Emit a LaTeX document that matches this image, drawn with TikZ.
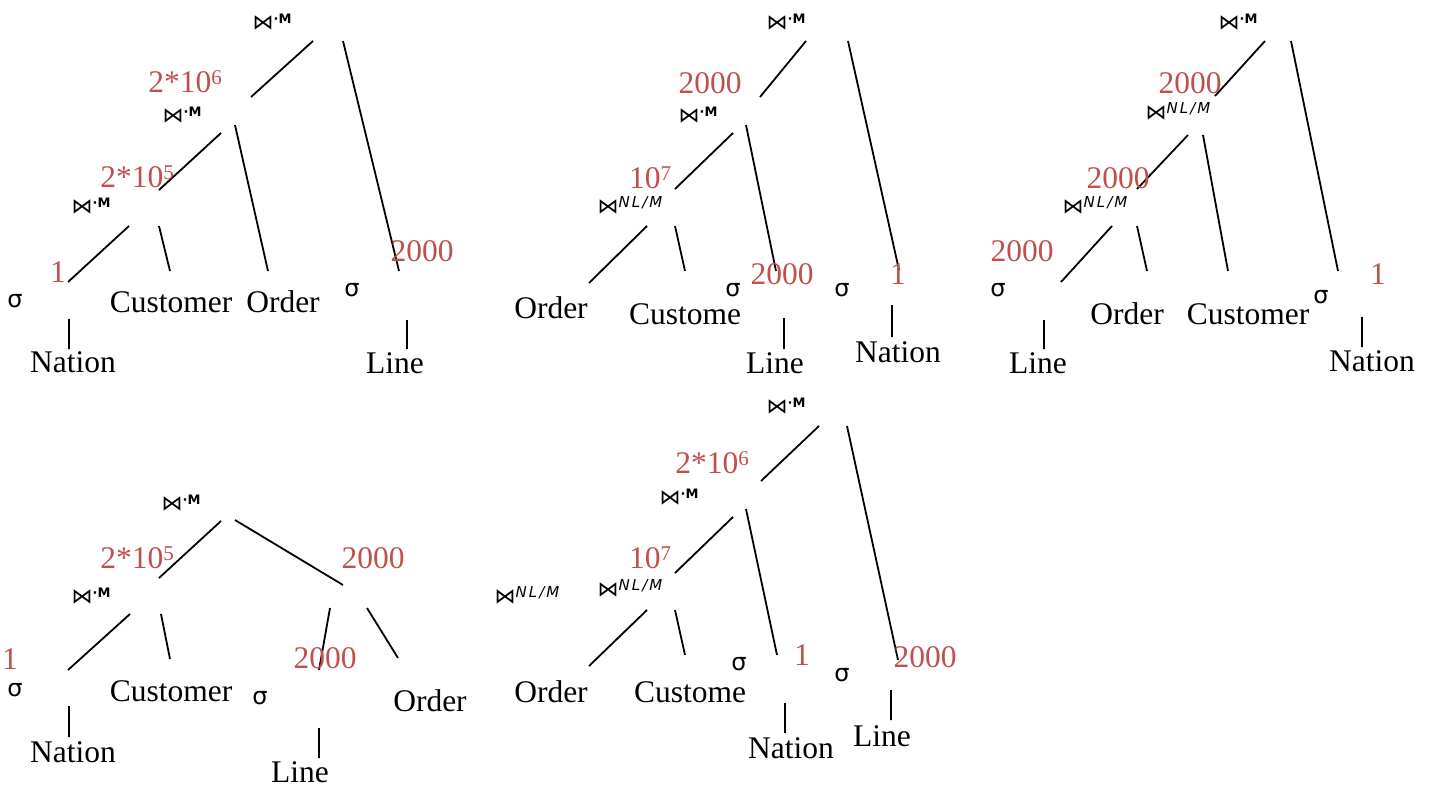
\documentclass[tikz,border=0pt]{standalone}
\usepackage{fontspec}
\setmainfont{Liberation Serif}
\newfontfamily\symfont{DejaVu Sans}
\definecolor{cardred}{HTML}{C0504D}
\newcommand\joinM{⋈\raisebox{6pt}{\fontsize{13}{13}\selectfont\bfseries ·M}}
\newcommand\joinNL{⋈\raisebox{6pt}{\fontsize{15}{15}\selectfont\itshape N\hspace{2pt}L\hspace{2pt}/\hspace{2pt}M}}
\newcommand\pw[1]{\raisebox{8pt}{\fontsize{21}{21}\selectfont #1}}
\tikzset{
  edge/.style={line width=1.8pt},
  rel/.style={anchor=base, inner sep=0pt, font=\fontsize{31.5}{31.5}\selectfont},
  card/.style={rel, text=cardred},
  joinop/.style={inner sep=0pt, font=\symfont\fontsize{21}{21}\selectfont},
  sel/.style={inner sep=0pt, font=\symfont\fontsize{24}{24}\selectfont},
}
\begin{document}
\begin{tikzpicture}[x=1pt,y=-1pt]
\useasboundingbox (0,0) rectangle (1434,787);

% ---------- plan 1 (top left) ----------
\path (313,41) coordinate (p1a) (251,97) coordinate (p1b)
      (343,41) coordinate (p1c) (399,271) coordinate (p1d)
      (221,133) coordinate (p1e) (159,190) coordinate (p1f)
      (235,125) coordinate (p1g) (268,271) coordinate (p1h)
      (129,226) coordinate (p1i) (68,282) coordinate (p1j)
      (159,226) coordinate (p1k) (170,271) coordinate (p1l)
      (69,319) coordinate (p1m) (69,349) coordinate (p1n)
      (407,320) coordinate (p1o) (407,349) coordinate (p1p);
\draw[edge] (p1a)--(p1b) (p1c)--(p1d) (p1e)--(p1f) (p1g)--(p1h)
            (p1i)--(p1j) (p1k)--(p1l) (p1m)--(p1n) (p1o)--(p1p);
\node[joinop] (j1a) at (272,22) {\joinM};
\node[card] (c1a) at (185,92) {2*10\pw{6}};
\node[joinop] (j1b) at (182,115) {\joinM};
\node[card] (c1b) at (137,187) {2*10\pw{5}};
\node[joinop] (j1c) at (91,206) {\joinM};
\node[card] (c1c) at (58,282) {1};
\node[sel] (s1a) at (15,301) {σ};
\node[rel] (r1a) at (73,372) {Nation};
\node[rel] (r1b) at (171,312) {Customer};
\node[rel] (r1c) at (283,312) {Order};
\node[sel] (s1b) at (352,290) {σ};
\node[card] (c1d) at (422,261) {2000};
\node[rel] (r1d) at (395,373) {Line};

% ---------- plan 2 (top middle) ----------
\path (806,41) coordinate (p2a) (760,97) coordinate (p2b)
      (848,41) coordinate (p2c) (899,270) coordinate (p2d)
      (733,133) coordinate (p2e) (675,189) coordinate (p2f)
      (746,125) coordinate (p2g) (776,271) coordinate (p2h)
      (647,226) coordinate (p2i) (589,283) coordinate (p2j)
      (675,226) coordinate (p2k) (685,271) coordinate (p2l)
      (784,318) coordinate (p2m) (784,349) coordinate (p2n)
      (892,305) coordinate (p2o) (892,337) coordinate (p2p);
\draw[edge] (p2a)--(p2b) (p2c)--(p2d) (p2e)--(p2f) (p2g)--(p2h)
            (p2i)--(p2j) (p2k)--(p2l) (p2m)--(p2n) (p2o)--(p2p);
\node[joinop] (j2a) at (786,22) {\joinM};
\node[card] (c2a) at (710,93) {2000};
\node[joinop] (j2b) at (698,115) {\joinM};
\node[card] (c2b) at (650,188) {10\pw{7}};
\node[joinop] (j2c) at (630,205) {\joinNL};
\node[rel] (r2a) at (551,318) {Order};
\node[rel] (r2b) at (685,324) {Custome};
\node[sel] (s2a) at (733,290) {σ};
\node[card] (c2c) at (782,284) {2000};
\node[rel] (r2c) at (775,373) {Line};
\node[sel] (s2b) at (842,290) {σ};
\node[card] (c2d) at (898,284) {1};
\node[rel] (r2d) at (898,362) {Nation};

% ---------- plan 3 (top right) ----------
\path (1265,41) coordinate (p3a) (1215,96) coordinate (p3b)
      (1291,41) coordinate (p3c) (1338,271) coordinate (p3d)
      (1188,135) coordinate (p3e) (1137,189) coordinate (p3f)
      (1203,135) coordinate (p3g) (1228,271) coordinate (p3h)
      (1112,226) coordinate (p3i) (1061,282) coordinate (p3j)
      (1137,226) coordinate (p3k) (1147,271) coordinate (p3l)
      (1044,320) coordinate (p3m) (1044,349) coordinate (p3n)
      (1362,317) coordinate (p3o) (1362,347) coordinate (p3p);
\draw[edge] (p3a)--(p3b) (p3c)--(p3d) (p3e)--(p3f) (p3g)--(p3h)
            (p3i)--(p3j) (p3k)--(p3l) (p3m)--(p3n) (p3o)--(p3p);
\node[joinop] (j3a) at (1238,22) {\joinM};
\node[card] (c3a) at (1190,93) {2000};
\node[joinop] (j3b) at (1178,111) {\joinNL};
\node[card] (c3b) at (1118,188) {2000};
\node[joinop] (j3c) at (1095,205) {\joinNL};
\node[card] (c3c) at (1022,261) {2000};
\node[sel] (s3a) at (998,290) {σ};
\node[rel] (r3a) at (1038,373) {Line};
\node[rel] (r3b) at (1127,324) {Order};
\node[rel] (r3c) at (1248,324) {Customer};
\node[sel] (s3b) at (1321,297) {σ};
\node[card] (c3d) at (1378,284) {1};
\node[rel] (r3d) at (1372,371) {Nation};

% ---------- plan 4 (bottom left) ----------
\path (221,521) coordinate (p4a) (159,578) coordinate (p4b)
      (235,520) coordinate (p4c) (343,585) coordinate (p4d)
      (130,614) coordinate (p4e) (68,670) coordinate (p4f)
      (161,614) coordinate (p4g) (170,659) coordinate (p4h)
      (330,608) coordinate (p4i) (319,670) coordinate (p4j)
      (367,608) coordinate (p4k) (398,658) coordinate (p4l)
      (69,706) coordinate (p4m) (69,737) coordinate (p4n)
      (319,728) coordinate (p4o) (319,758) coordinate (p4p);
\draw[edge] (p4a)--(p4b) (p4c)--(p4d) (p4e)--(p4f) (p4g)--(p4h)
            (p4i)--(p4j) (p4k)--(p4l) (p4m)--(p4n) (p4o)--(p4p);
\node[joinop] (j4a) at (181,503) {\joinM};
\node[card] (c4a) at (137,568) {2*10\pw{5}};
\node[card] (c4b) at (373,568) {2000};
\node[joinop] (j4b) at (91,596) {\joinM};
\node[card] (c4c) at (10,669) {1};
\node[sel] (s4a) at (15,690) {σ};
\node[rel] (r4a) at (73,762) {Nation};
\node[rel] (r4b) at (171,701) {Customer};
\node[card] (c4d) at (325,668) {2000};
\node[sel] (s4b) at (260,698) {σ};
\node[rel] (r4c) at (300,782) {Line};
\node[rel] (r4d) at (430,711) {Order};

% ---------- plan 5 (bottom middle) ----------
\path (819,426) coordinate (p5a) (761,481) coordinate (p5b)
      (847,426) coordinate (p5c) (898,660) coordinate (p5d)
      (733,517) coordinate (p5e) (675,573) coordinate (p5f)
      (746,509) coordinate (p5g) (777,655) coordinate (p5h)
      (647,610) coordinate (p5i) (589,666) coordinate (p5j)
      (675,610) coordinate (p5k) (685,655) coordinate (p5l)
      (785,703) coordinate (p5m) (785,733) coordinate (p5n)
      (891,690) coordinate (p5o) (891,720) coordinate (p5p);
\draw[edge] (p5a)--(p5b) (p5c)--(p5d) (p5e)--(p5f) (p5g)--(p5h)
            (p5i)--(p5j) (p5k)--(p5l) (p5m)--(p5n) (p5o)--(p5p);
\node[joinop] (j5a) at (786,406) {\joinM};
\node[card] (c5a) at (712,473) {2*10\pw{6}};
\node[joinop] (j5b) at (679,497) {\joinM};
\node[card] (c5b) at (650,568) {10\pw{7}};
\node[joinop] (j5c) at (630,588) {\joinNL};
\node[joinop] (j5d) at (527,595) {\joinNL};
\node[rel] (r5a) at (551,702) {Order};
\node[rel] (r5b) at (690,702) {Custome};
\node[sel] (s5a) at (739,664) {σ};
\node[card] (c5c) at (802,665) {1};
\node[rel] (r5c) at (791,758) {Nation};
\node[sel] (s5b) at (842,675) {σ};
\node[card] (c5d) at (925,667) {2000};
\node[rel] (r5d) at (882,746) {Line};
\end{tikzpicture}
\end{document}
